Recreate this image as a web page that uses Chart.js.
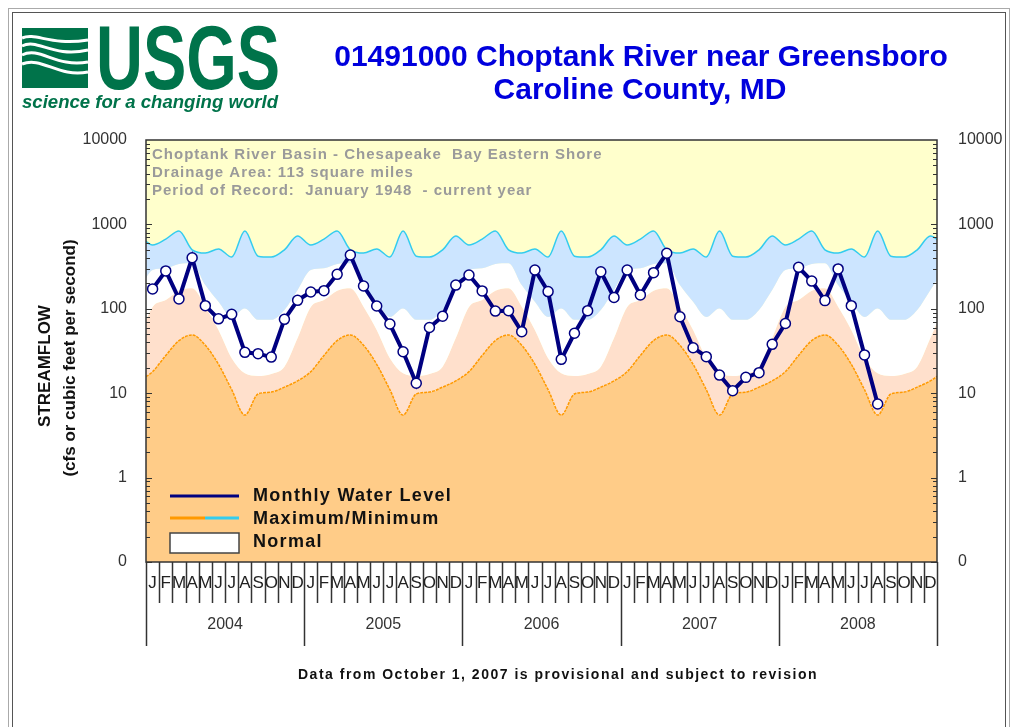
<!DOCTYPE html>
<html>
<head>
<meta charset="utf-8">
<script src="https://cdn.jsdelivr.net/npm/chart.js@4/dist/chart.umd.min.js"></script>
<style>
  body { margin: 0; background: #fff; }
  #wrap { position: relative; width: 1013px; height: 727px; overflow: hidden; }
  #chart { position: absolute; left: 0; top: 0; }
  #frame1 { position: absolute; left: 8px; top: 8px; width: 1000px; height: 740px; border: 1px solid #aaa; }
  #frame2 { position: absolute; left: 12px; top: 12px; width: 992px; height: 740px; border: 1px solid #555; }
  #over { position: absolute; left: 0; top: 0; }
</style>
</head>
<body>
<div id="wrap">
  <div id="frame1"></div>
  <div id="frame2"></div>
  <canvas id="chart" width="1013" height="727"></canvas>
  <svg id="over" width="1013" height="727" font-family="Liberation Sans, Arial, sans-serif">
    <rect x="22" y="28" width="66" height="60" fill="#00734a"/>
    <g fill="none" stroke="#fff" stroke-width="3">
      <path d="M22,46 C38,38 52,58 88,50"/>
      <path d="M22,55 C40,46 56,68 88,62"/>
      <path d="M22,64 C42,56 58,78 88,72"/>
      <path d="M22,38 C36,32 50,46 88,40"/>
    </g>
    <text x="96" y="89" font-size="90" font-weight="bold" fill="#00734a" textLength="184" lengthAdjust="spacingAndGlyphs">USGS</text>
    <text x="22" y="108" font-size="19" font-weight="bold" font-style="italic" fill="#00734a" textLength="256" lengthAdjust="spacingAndGlyphs">science for a changing world</text>
    <text x="641" y="66" font-size="30" font-weight="bold" fill="#0000dd" text-anchor="middle">01491000 Choptank River near Greensboro</text>
    <text x="640" y="99" font-size="30" font-weight="bold" fill="#0000dd" text-anchor="middle">Caroline County, MD</text>
    <text x="558" y="679" font-size="14" font-weight="bold" fill="#111" text-anchor="middle" letter-spacing="1.5">Data from October 1, 2007 is provisional and subject to revision</text>
  </svg>
</div>
<script>
var monthLetters = ['J','F','M','A','M','J','J','A','S','O','N','D'];
var years = ['2004','2005','2006','2007','2008'];

// monthly mean streamflow, Jan 2004 - Aug 2008 (cfs)
var flow = [
  172, 281, 131, 403, 109, 76, 86, 30.5, 29.4, 26.8, 75, 126,
  158, 164, 256, 434, 186, 108, 66, 31, 13.1, 60, 81.5, 191,
  251, 163, 94, 95, 53.6, 288, 160, 25.2, 51.3, 95, 275, 136,
  288, 146, 268, 455, 80.5, 34.6, 27.1, 16.4, 10.7, 15.4, 17.5, 37.9,
  67, 310, 213, 125, 297, 109, 28.4, 7.45
];

// period of record statistics by month (Jan..Dec)
var maxFlow = [570, 670, 835, 500, 458, 512, 410, 835, 420, 410, 500, 730];
var p75 = [288, 302, 340, 346, 191, 121, 80, 101, 74, 74, 97, 167];
var p25 = [105, 127, 164, 175, 106, 56, 26, 17.2, 16, 16.9, 20.6, 45];
var minFlow = [18, 28, 42, 49, 37, 22, 11, 5.5, 9.8, 10.3, 11.8, 14];

var infoLines = [
  'Choptank River Basin - Chesapeake  Bay Eastern Shore',
  'Drainage Area: 113 square miles',
  'Period of Record:  January 1948  - current year'
];

function seasonal(stat) {
  var out = [];
  for (var k = -1; k <= years.length * 12; k++) {
    out.push({x: k + 0.5, y: stat[(k + 12) % 12]});
  }
  return out;
}
var flowPts = flow.map(function (v, i) { return {x: i + 0.5, y: v}; });

var chartDeco = {
  id: 'chartDeco',
  beforeDraw: function (chart) {
    var a = chart.chartArea, ctx = chart.ctx;
    ctx.save();
    ctx.fillStyle = '#ffffcc';
    ctx.fillRect(a.left, a.top, a.right - a.left, a.bottom - a.top);
    ctx.restore();
  },
  afterDraw: function (chart) {
    var a = chart.chartArea, ctx = chart.ctx;
    var xs = chart.scales.x, ys = chart.scales.y;
    ctx.save();

    // info text
    ctx.fillStyle = '#9a9a9a';
    ctx.font = 'bold 15px "Liberation Sans", Arial';
    ctx.letterSpacing = '1px';
    ctx.textBaseline = 'middle';
    infoLines.forEach(function (t, i) { ctx.fillText(t, 152, 155 + i * 18); });

    // legend
    ctx.lineWidth = 3;
    ctx.strokeStyle = '#000080';
    ctx.beginPath(); ctx.moveTo(170, 496); ctx.lineTo(239, 496); ctx.stroke();
    ctx.strokeStyle = '#ff9900';
    ctx.beginPath(); ctx.moveTo(170, 518); ctx.lineTo(205, 518); ctx.stroke();
    ctx.strokeStyle = '#33ccee';
    ctx.beginPath(); ctx.moveTo(205, 518); ctx.lineTo(239, 518); ctx.stroke();
    ctx.fillStyle = '#fff';
    ctx.fillRect(170, 533, 69, 20);
    ctx.lineWidth = 1.5;
    ctx.strokeStyle = '#444';
    ctx.strokeRect(170, 533, 69, 20);
    ctx.fillStyle = '#111';
    ctx.font = 'bold 18px "Liberation Sans", Arial';
    ctx.letterSpacing = '1.3px';
    ctx.fillText('Monthly Water Level', 253, 496);
    ctx.fillText('Maximum/Minimum', 253, 519);
    ctx.fillText('Normal', 253, 542);
    ctx.letterSpacing = '0px';

    // frame
    ctx.strokeStyle = '#333';
    ctx.lineWidth = 1.5;
    ctx.strokeRect(a.left, a.top, a.right - a.left, a.bottom - a.top);

    // log minor ticks inside both sides
    ctx.lineWidth = 1;
    for (var e = -1; e < 4; e++) {
      for (var m = 1; m <= 9; m++) {
        var py = Math.round(ys.getPixelForValue(m * Math.pow(10, e))) + 0.5;
        var len = m === 1 ? 6 : 4;
        ctx.beginPath();
        ctx.moveTo(a.left, py); ctx.lineTo(a.left + len, py);
        ctx.moveTo(a.right, py); ctx.lineTo(a.right - len, py);
        ctx.stroke();
      }
    }

    // month and year axis
    ctx.strokeStyle = '#333';
    ctx.lineWidth = 1.5;
    ctx.fillStyle = '#222';
    ctx.textAlign = 'center';
    ctx.textBaseline = 'middle';
    var n = years.length * 12;
    for (var i = 0; i <= n; i++) {
      var px = Math.round(xs.getPixelForValue(i)) + 0.5;
      ctx.beginPath();
      ctx.moveTo(px, a.bottom);
      ctx.lineTo(px, i % 12 === 0 ? 646 : 603);
      ctx.stroke();
      if (i < n) {
        ctx.font = '17px "Liberation Sans", Arial';
        ctx.fillText(monthLetters[i % 12], xs.getPixelForValue(i + 0.5), 583);
      }
    }
    ctx.fillStyle = '#333';
    ctx.font = '16px "Liberation Sans", Arial';
    years.forEach(function (y, j) {
      ctx.fillText(y, xs.getPixelForValue(j * 12 + 6), 625);
    });

    // axis title
    ctx.fillStyle = '#111';
    ctx.font = 'bold 17px "Liberation Sans", Arial';
    ctx.translate(45, 366);
    ctx.rotate(-Math.PI / 2);
    ctx.fillText('STREAMFLOW', 0, 0);
    ctx.fillText('(cfs or cubic feet per second)', 8, 25);
    ctx.restore();
  }
};

function decadeTicks(scale) {
  scale.ticks = [0.1, 1, 10, 100, 1000, 10000].map(function (v) { return {value: v}; });
}
function decadeLabel(v) { return v === 0.1 ? '0' : String(v); }

new Chart(document.getElementById('chart'), {
  type: 'line',
  data: {
    datasets: [
      {
        label: 'Monthly Water Level',
        data: flowPts,
        borderColor: '#000080',
        borderWidth: 4,
        pointRadius: 5,
        pointBackgroundColor: '#fff',
        pointBorderColor: '#000080',
        pointBorderWidth: 1.5,
        tension: 0,
        fill: false
      },
      {
        label: 'Maximum',
        data: seasonal(maxFlow),
        borderColor: '#33ccee',
        borderWidth: 1.5,
        pointRadius: 0,
        cubicInterpolationMode: 'monotone',
        fill: {target: '+1', above: '#cce5ff', below: '#cce5ff'}
      },
      {
        label: '75th percentile',
        data: seasonal(p75),
        borderWidth: 0,
        borderColor: 'rgba(0,0,0,0)',
        pointRadius: 0,
        cubicInterpolationMode: 'monotone',
        fill: {target: '+1', above: '#ffffff', below: '#ffffff'}
      },
      {
        label: '25th percentile',
        data: seasonal(p25),
        borderWidth: 0,
        borderColor: 'rgba(0,0,0,0)',
        pointRadius: 0,
        cubicInterpolationMode: 'monotone',
        fill: {target: '+1', above: '#ffe0cc', below: '#ffe0cc'}
      },
      {
        label: 'Minimum',
        data: seasonal(minFlow),
        borderColor: '#ff9900',
        borderWidth: 1.5,
        borderDash: [3, 1],
        pointRadius: 0,
        cubicInterpolationMode: 'monotone',
        fill: {target: 'start', above: '#ffcc88', below: '#ffcc88'}
      }
    ]
  },
  options: {
    responsive: false,
    animation: false,
    layout: {padding: {top: 140, bottom: 165, left: 0, right: 0}},
    plugins: {
      legend: {display: false},
      tooltip: {enabled: false},
      filler: {drawTime: 'beforeDatasetsDraw'}
    },
    scales: {
      x: {type: 'linear', min: 0, max: 60, display: false},
      y: {
        type: 'logarithmic', position: 'left', min: 0.1, max: 10000,
        afterBuildTicks: decadeTicks,
        afterFit: function (s) { s.width = 146; },
        grid: {display: false},
        border: {display: false},
        ticks: {callback: decadeLabel, color: '#333', padding: 11, font: {size: 16, family: '"Liberation Sans", Arial'}}
      },
      y2: {
        type: 'logarithmic', position: 'right', min: 0.1, max: 10000,
        afterBuildTicks: decadeTicks,
        afterFit: function (s) { s.width = 76; },
        grid: {display: false},
        border: {display: false},
        ticks: {callback: decadeLabel, color: '#333', padding: 13, font: {size: 16, family: '"Liberation Sans", Arial'}}
      }
    }
  },
  plugins: [chartDeco]
});
</script>
</body>
</html>
